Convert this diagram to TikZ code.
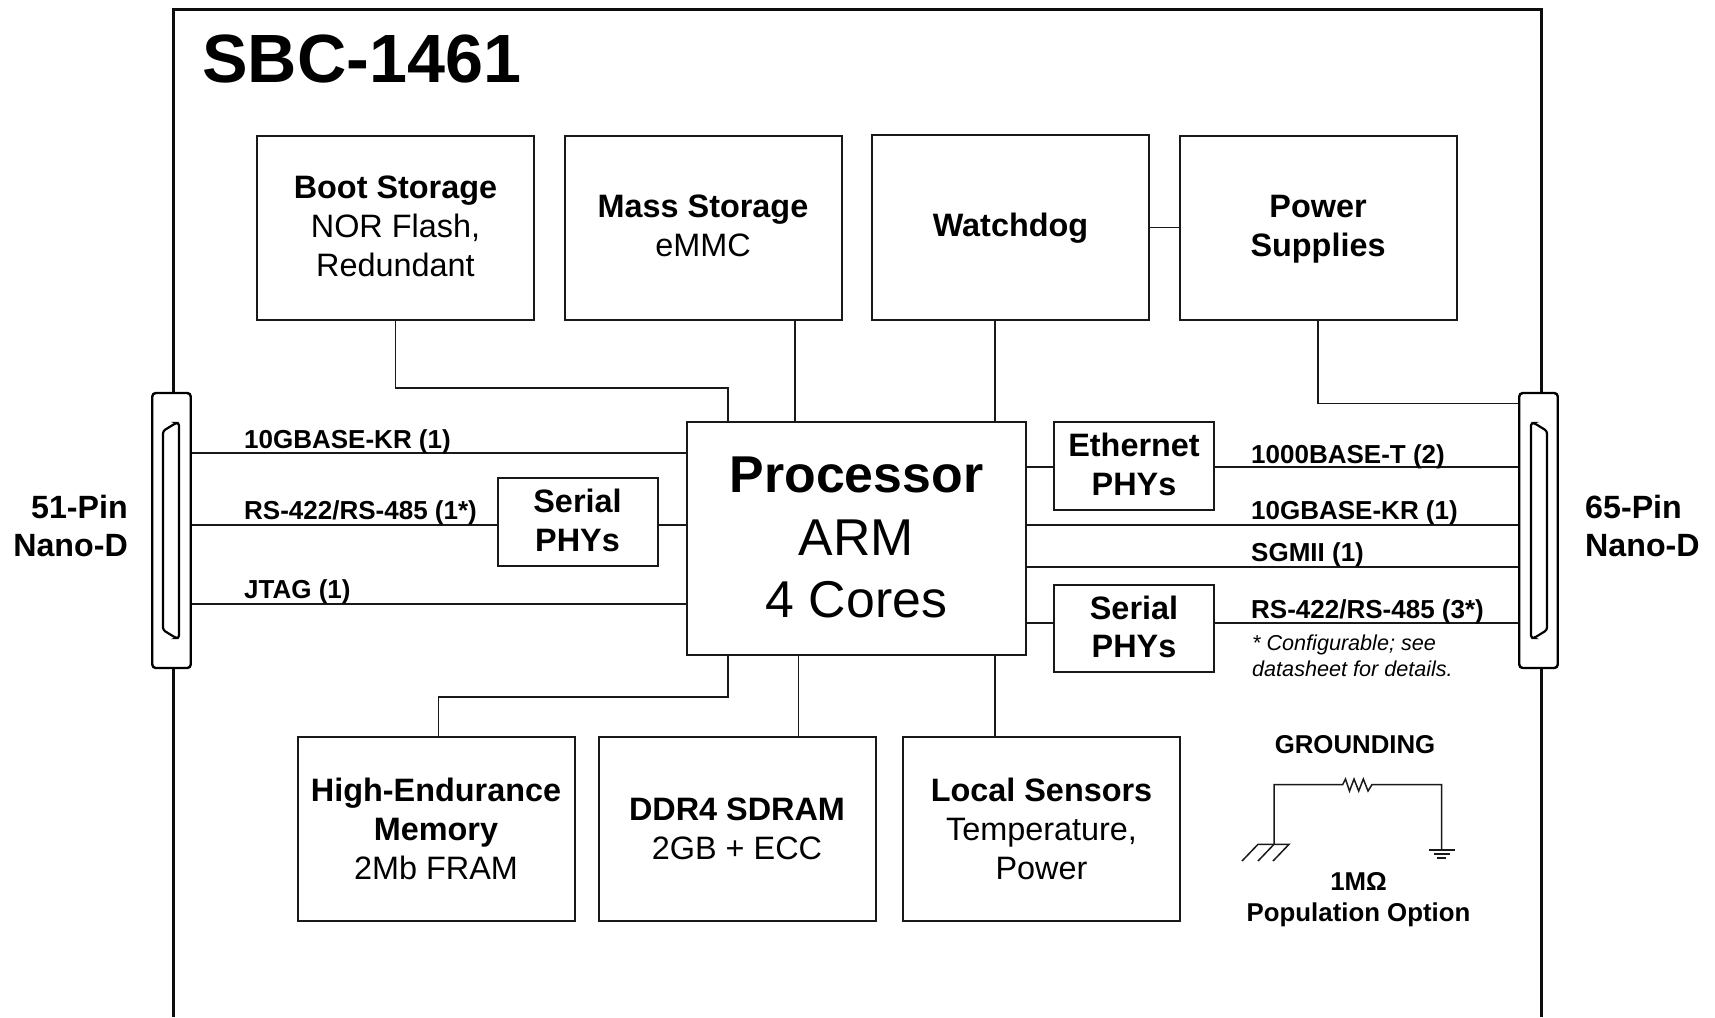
\documentclass[tikz,border=0pt]{standalone}
\usepackage{fontspec}
\setmainfont{Liberation Sans}
\newcommand\dropby[1]{\rule[-#1pt]{0pt}{#1pt}}
\tikzset{
  frameline/.style={line width=3pt,black!95},
  wire/.style={line width=1.9pt,black!90},
  blockbox/.style={draw=black!90,line width=2pt,fill=white,inner sep=0pt,align=center,font=\fontsize{32.4}{38.8}\selectfont},
  procbox/.style={blockbox,font=\fontsize{51.8}{62.5}\selectfont},
  sigtext/.style={anchor=base west,inner sep=0pt,font=\bfseries\fontsize{26}{30}\selectfont},
  notetext/.style={anchor=base west,inner sep=0pt,font=\itshape\fontsize{21.6}{25}\selectfont},
  conn/.style={draw=black,line width=2.4pt,rounded corners=3.5pt,fill=white,minimum width=38.5pt,minimum height=275pt,inner sep=0pt},
  slot/.style={draw=black,line width=2.2pt,rounded corners=2.5pt},
  sidetext/.style={inner sep=0pt,font=\bfseries\fontsize{32.2}{38.8}\selectfont},
  gndtext/.style={inner sep=0pt,align=center,font=\bfseries\fontsize{25.8}{30.6}\selectfont},
  gndwire/.style={line width=1.5pt,black!90}
}
\begin{document}
\begin{tikzpicture}[x=1pt,y=-1pt]
\useasboundingbox (0,0) rectangle (1715,1017);
% board outline
\draw[frameline] (173,1017) -- (173,9) -- (1541,9) -- (1541,1017);
\node[anchor=base west,inner sep=0pt,font=\bfseries\fontsize{68.3}{70}\selectfont] (title) at (202,82.5) {SBC-1461};
% connectors
\node[conn] (cl) at (171.5,530.5) {};
\node[conn] (cr) at (1538.5,530.5) {};
\draw[slot] (163,431) -- (176,423) -- (179,423) -- (179,638) -- (176,638) -- (163,630) -- cycle;
\draw[slot] (1547,431) -- (1534,423) -- (1531,423) -- (1531,638) -- (1534,638) -- (1547,630) -- cycle;
% blocks
\node[blockbox,minimum width=277pt,minimum height=184pt] (boot) at (395.5,227.5) {\textbf{Boot Storage}\\NOR Flash,\\Redundant\dropby{2.4}};
\node[blockbox,minimum width=277pt,minimum height=184pt] (mass) at (703,227.5) {\textbf{Mass Storage}\\eMMC\dropby{4.4}};
\node[blockbox,minimum width=277pt,minimum height=185pt] (wdog) at (1010.5,227) {\rule{0pt}{25.5pt}\textbf{Watchdog}};
\node[blockbox,minimum width=277pt,minimum height=184pt] (pwr) at (1318,227.5) {\rule{0pt}{25.5pt}\textbf{Power}\\\textbf{Supplies}};
\node[procbox,minimum width=339pt,minimum height=233pt] (proc) at (856.5,538.5) {\textbf{Processor}\\ARM\\4 Cores\dropby{2.5}};
\node[blockbox,minimum width=160pt,minimum height=88pt] (eth) at (1134,466) {\textbf{Ethernet}\\\textbf{PHYs}\dropby{3.5}};
\node[blockbox,minimum width=160pt,minimum height=87pt] (serr) at (1134,628.5) {\textbf{Serial}\\\textbf{PHYs}\dropby{3.5}};
\node[blockbox,minimum width=160pt,minimum height=88pt] (serl) at (577.5,522) {\textbf{Serial}\\\textbf{PHYs}\dropby{3.5}};
\node[blockbox,minimum width=277pt,minimum height=184pt] (fram) at (436,829) {\textbf{High-Endurance}\\\textbf{Memory}\\2Mb FRAM\dropby{1}};
\node[blockbox,minimum width=277pt,minimum height=184pt] (ddr) at (737,829) {\textbf{DDR4 SDRAM}\\2GB + ECC};
\node[blockbox,minimum width=277pt,minimum height=184pt] (sens) at (1041.5,829) {\textbf{Local Sensors}\\Temperature,\\Power};
% bend and tap points
\coordinate (bootin) at (728,422);
\coordinate (massin) at (795,422);
\coordinate (wdogin) at (995,422);
\coordinate (pwrbend) at (1318,403.5);
\coordinate (framout) at (728,655);
\coordinate (framin) at (438.5,737);
\coordinate (ddrout) at (798.5,655);
\coordinate (sensout) at (995,655);
% top wires
\draw[wire] (boot.south) -- (395.5,388) -- (728,388) -- (bootin);
\draw[wire] (massin) -- (massin |- mass.south);
\draw[wire] (wdogin) -- (wdogin |- wdog.south);
\draw[wire] (wdog.east |- pwr.west) -- (pwr.west);
\draw[wire] (pwr.south) -- (pwrbend) -- (pwrbend -| cr.west);
% left wires
\coordinate (kl) at (687,453);
\draw[wire] (kl -| cl.east) -- (kl);
\coordinate (rl) at (498,525);
\draw[wire] (rl -| cl.east) -- (rl);
\coordinate (rlb) at (657,525);
\draw[wire] (rlb) -- (rlb -| proc.west);
\coordinate (jl) at (687,604);
\draw[wire] (jl -| cl.east) -- (jl);
% right wires
\coordinate (el) at (1026,467);
\draw[wire] (el) -- (el -| eth.west);
\coordinate (er) at (1214,467);
\draw[wire] (er) -- (er -| cr.west);
\coordinate (kr) at (1026,525);
\draw[wire] (kr) -- (kr -| cr.west);
\coordinate (sr) at (1026,567);
\draw[wire] (sr) -- (sr -| cr.west);
\coordinate (rr) at (1026,623);
\draw[wire] (rr) -- (rr -| serr.west);
\coordinate (rrb) at (1214,623);
\draw[wire] (rrb) -- (rrb -| cr.west);
% bottom wires
\draw[wire] (framout) -- (728,697) -- (438.5,697) -- (framin);
\draw[wire] (ddrout) -- (ddrout |- ddr.north);
\draw[wire] (sensout) -- (sensout |- sens.north);
% signal labels
\node[sigtext] (l1) at (244,448) {10GBASE-KR (1)};
\node[sigtext] (l2) at (244,519) {RS-422/RS-485 (1*)};
\node[sigtext] (l3) at (244,598) {JTAG (1)};
\node[sigtext] (r1) at (1251,463.5) {1000BASE-T (2)};
\node[sigtext] (r2) at (1251,519) {10GBASE-KR (1)};
\node[sigtext] (r3) at (1251,561) {SGMII (1)};
\node[sigtext] (r4) at (1251,618) {RS-422/RS-485 (3*)};
\node[notetext] (n1) at (1252,650) {* Configurable; see};
\node[notetext] (n2) at (1252,676) {datasheet for details.};
% side labels
\node[sidetext,anchor=base east] (s1) at (128,518) {51-Pin};
\node[sidetext,anchor=base east] (s2) at (128,556) {Nano-D};
\node[sidetext,anchor=base west] (s3) at (1585,518) {65-Pin};
\node[sidetext,anchor=base west] (s4) at (1585,556) {Nano-D};
% grounding
\node[gndtext] (g1) at (1355,745) {GROUNDING};
\node[gndtext] (g2) at (1358.5,899.5) {1M\char"03A9\\Population Option};
\draw[gndwire] (1274,844.3) -- (1274,784.5) -- (1342.7,784.5) -- (1345.5,779) -- (1349.5,791) -- (1354,779) -- (1358.7,791) -- (1363.3,779) -- (1368,791) -- (1372,784.5) -- (1441.7,784.5) -- (1441.7,850);
\draw[gndwire] (1242,861) -- (1258,844.3) -- (1289,844.3) -- (1273,861);
\draw[gndwire] (1274,844.3) -- (1258,861);
\draw[gndwire] (1429,850) -- (1455,850);
\draw[gndwire] (1434,854) -- (1450,854);
\draw[gndwire] (1437,858) -- (1446,858);
\end{tikzpicture}
\end{document}
